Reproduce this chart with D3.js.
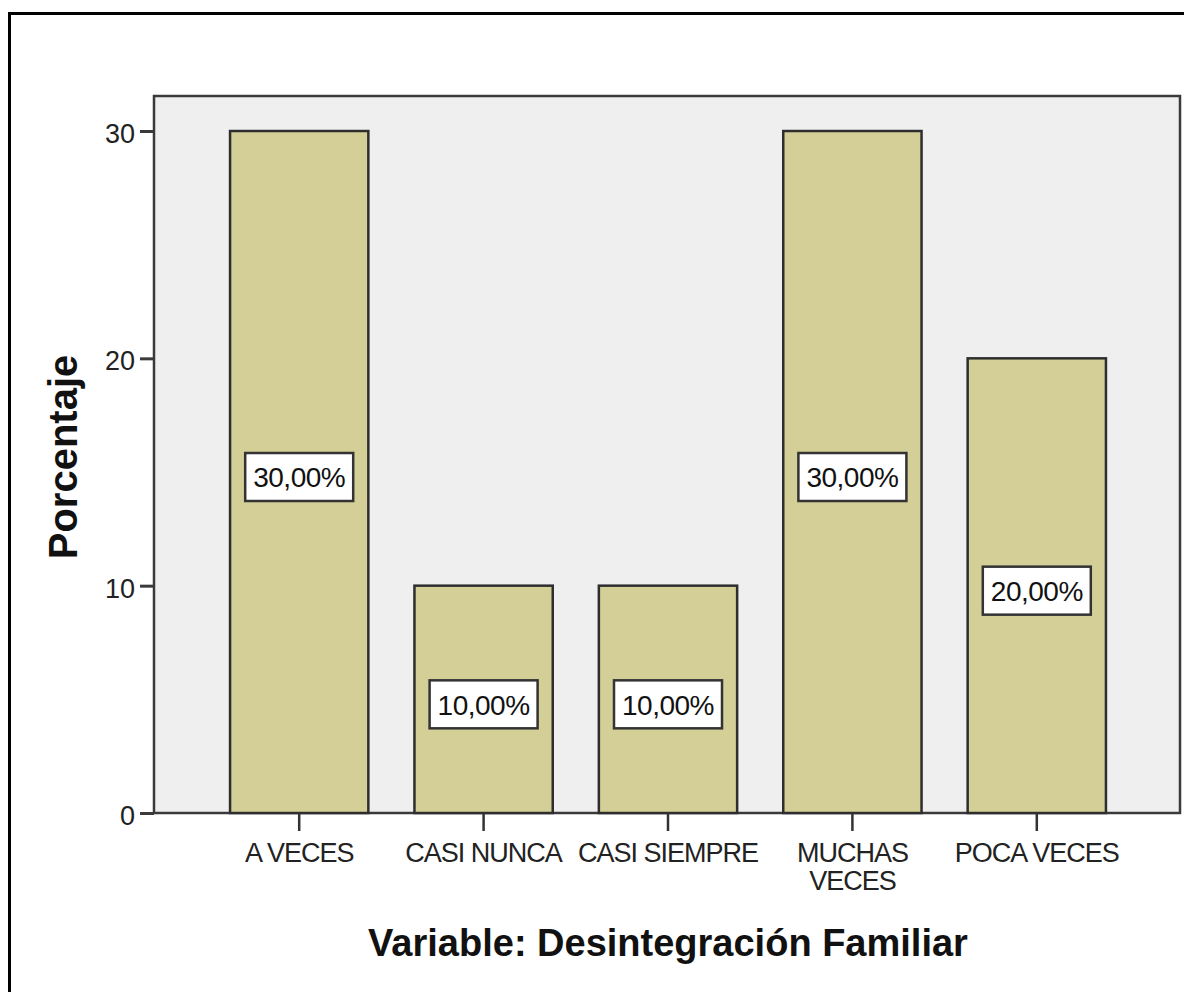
<!DOCTYPE html>
<html>
<head>
<meta charset="utf-8">
<script src="https://cdn.jsdelivr.net/npm/d3@7"></script>
<style>
  body { margin: 0; background: #fff; }
  svg { display: block; font-family: "Liberation Sans", Arial, sans-serif; }
</style>
</head>
<body>
<div id="chart"></div>
<script>
const categories = ["A VECES", "CASI NUNCA", "CASI SIEMPRE", "MUCHAS VECES", "POCA VECES"];
const catLines = [["A VECES"], ["CASI NUNCA"], ["CASI SIEMPRE"], ["MUCHAS", "VECES"], ["POCA VECES"]];
const percents = [30, 10, 10, 30, 20];
const yTicks = [0, 10, 20, 30];

const width = 1184, height = 992;
const plot = {left: 154, right: 1180, top: 96, bottom: 813};

const svg = d3.select("#chart").append("svg")
    .attr("width", width)
    .attr("height", height);

// outer frame
svg.append("rect")
    .attr("x", 9.5).attr("y", 13.5)
    .attr("width", width + 10).attr("height", height + 10)
    .attr("fill", "none")
    .attr("stroke", "#000")
    .attr("stroke-width", 3);

const y = d3.scaleLinear()
    .domain([0, 31.54])
    .range([plot.bottom, plot.top]);

const x = d3.scaleBand()
    .domain(categories)
    .range([207, 1129])
    .paddingInner(0.25)
    .paddingOuter(0.125);

// plot background
svg.append("rect")
    .attr("x", plot.left).attr("y", plot.top)
    .attr("width", plot.right - plot.left)
    .attr("height", plot.bottom - plot.top)
    .attr("fill", "#efefef")
    .attr("stroke", "#3a3a3a")
    .attr("stroke-width", 2.5);

// bars
svg.append("g").selectAll("rect")
    .data(percents).enter().append("rect")
    .attr("x", (d, i) => x(categories[i]))
    .attr("y", d => y(d))
    .attr("width", x.bandwidth())
    .attr("height", d => y(0) - y(d))
    .attr("fill", "#d3cf97")
    .attr("stroke", "#2e2e2e")
    .attr("stroke-width", 2.5);

// value labels
const lab = svg.append("g").selectAll("g")
    .data(percents).enter().append("g")
    .attr("transform", (d, i) => `translate(${x(categories[i]) + x.bandwidth() / 2},${y(d / 2) + 5})`);

lab.append("rect")
    .attr("x", -54).attr("y", -24)
    .attr("width", 108).attr("height", 48)
    .attr("fill", "#fff")
    .attr("stroke", "#333")
    .attr("stroke-width", 2.5);

lab.append("text")
    .attr("text-anchor", "middle")
    .attr("dy", "0.37em")
    .style("font-size", "28px")
    .style("letter-spacing", "-0.5px")
    .attr("fill", "#111")
    .text(d => d.toFixed(2).replace(".", ",") + "%");

// y axis
const yAxis = svg.append("g")
    .attr("transform", `translate(${plot.left},0)`)
    .call(d3.axisLeft(y).tickValues(yTicks).tickSize(14).tickPadding(5).tickFormat(d3.format("d")));
yAxis.select(".domain").remove();
yAxis.selectAll("line").attr("stroke", "#3a3a3a").attr("stroke-width", 3);
yAxis.selectAll("text")
    .attr("dy", "0.42em")
    .style("font-size", "27px")
    .attr("fill", "#222")
    .attr("font-family", "Liberation Sans, Arial, sans-serif");

// x axis
const xAxis = svg.append("g")
    .attr("transform", `translate(0,${plot.bottom})`)
    .call(d3.axisBottom(x).tickSize(18).tickFormat(""));
xAxis.select(".domain").remove();
xAxis.selectAll("line").attr("stroke", "#333").attr("stroke-width", 2.5);

const xl = svg.append("g").selectAll("text")
    .data(categories).enter().append("text")
    .attr("x", d => x(d) + x.bandwidth() / 2)
    .attr("y", 862)
    .attr("text-anchor", "middle")
    .style("font-size", "27px")
    .style("letter-spacing", "-1px")
    .attr("fill", "#222");
xl.selectAll("tspan")
    .data((d, i) => catLines[i]).enter().append("tspan")
    .attr("x", function () { return d3.select(this.parentNode).attr("x"); })
    .attr("dy", (d, i) => i === 0 ? 0 : 28)
    .text(d => d);

// axis titles
svg.append("text")
    .attr("transform", "translate(77,457) rotate(-90)")
    .attr("text-anchor", "middle")
    .style("font-size", "40px")
    .style("font-weight", "bold")
    .attr("fill", "#111")
    .text("Porcentaje");

svg.append("text")
    .attr("x", 668).attr("y", 956)
    .attr("text-anchor", "middle")
    .style("font-size", "38px")
    .style("font-weight", "bold")
    .attr("fill", "#111")
    .text("Variable: Desintegración Familiar");
</script>
</body>
</html>
